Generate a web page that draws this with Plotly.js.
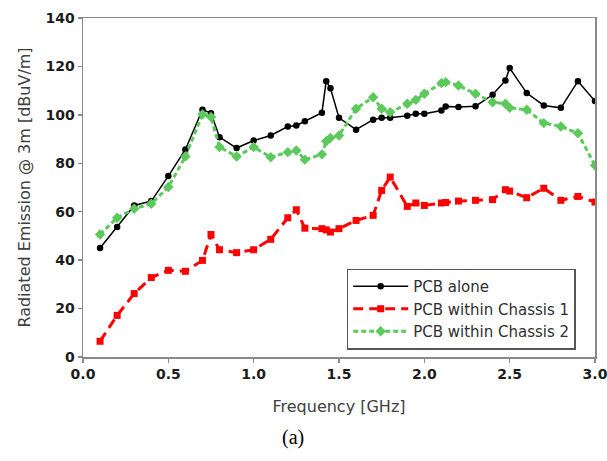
<!DOCTYPE html>
<html>
<head>
<meta charset="utf-8">
<script src="https://cdn.plot.ly/plotly-3.0.1.min.js"></script>
<style>
  html, body { margin: 0; padding: 0; background: #fff; }
  #chart { width: 607px; height: 461px; }
</style>
</head>
<body>
<div id="chart"></div>
<script>
// Frequency sample points [GHz]
const freqGHz = [0.1, 0.2, 0.3, 0.4, 0.5, 0.6, 0.7, 0.75, 0.8, 0.9, 1.0, 1.1, 1.2, 1.25, 1.3,
  1.4, 1.425, 1.45, 1.5, 1.6, 1.7, 1.75, 1.8, 1.9, 1.95, 2.0, 2.1, 2.125, 2.2, 2.3, 2.4,
  2.475, 2.5, 2.6, 2.7, 2.8, 2.9, 3.0];

// Radiated emission @ 3m [dBuV/m]
const pcbAlone = [45.0, 53.7, 62.6, 64.4, 74.7, 85.7, 102.1, 100.7, 90.8, 86.3, 89.4, 91.5, 95.2, 95.6, 97.4,
  100.9, 113.9, 111.0, 98.8, 93.9, 98.0, 98.8, 98.8, 99.6, 100.5, 100.5, 101.8, 103.5, 103.2, 103.6, 108.3,
  114.2, 119.3, 109.0, 103.9, 102.9, 113.9, 105.7];

const pcbChassis1 = [6.5, 17.2, 26.2, 32.8, 35.8, 35.4, 39.9, 50.6, 44.3, 43.1, 44.3, 48.6, 57.5, 60.8, 53.2,
  53.0, 52.5, 51.6, 53.0, 56.4, 58.5, 68.8, 74.3, 62.2, 63.6, 62.6, 63.6, 63.8, 64.4, 64.7, 65.0,
  69.1, 68.5, 65.8, 69.7, 64.7, 66.3, 64.0];

const pcbChassis2 = [50.6, 57.5, 61.2, 63.3, 70.2, 82.8, 100.2, 99.1, 86.7, 82.8, 86.7, 82.5, 84.6, 85.3, 81.5,
  83.7, 89.1, 90.5, 91.5, 102.5, 107.3, 102.5, 101.1, 104.6, 106.2, 108.7, 113.1, 113.5, 112.1, 108.7, 105.2,
  104.6, 102.9, 102.1, 96.6, 95.2, 92.4, 79.1];

const seriesNames = ['PCB alone', 'PCB within Chassis 1', 'PCB within Chassis 2'];
const xTicks = [0, 0.5, 1.0, 1.5, 2.0, 2.5, 3.0];
const yTicks = [0, 20, 40, 60, 80, 100, 120, 140];

const RED = '#ff0000';
const GREEN = '#5cc95c';
const AXIS = '#8a8a8a';

const traces = [
  {
    x: freqGHz, y: pcbAlone, name: seriesNames[0], type: 'scatter', mode: 'lines+markers',
    line: { color: '#000000', width: 1.5 },
    marker: { symbol: 'circle', size: 6.5, color: '#000000' }
  },
  {
    x: freqGHz, y: pcbChassis1, name: seriesNames[1], type: 'scatter', mode: 'lines+markers',
    line: { color: RED, width: 3, dash: '10px,6px' },
    marker: { symbol: 'square', size: 7, color: RED }
  },
  {
    x: freqGHz, y: pcbChassis2, name: seriesNames[2], type: 'scatter', mode: 'lines+markers',
    line: { color: GREEN, width: 3, dash: '5px,3px' },
    marker: { symbol: 'diamond', size: 8, color: GREEN }
  }
];

const tickFont = { family: 'DejaVu Sans', size: 14, color: '#1c1c1c', weight: 'bold' };
const titleFont = { family: 'DejaVu Sans', size: 16, color: '#404040' };

const layout = {
  width: 607, height: 461,
  margin: { l: 83, r: 12, t: 18, b: 104 },
  paper_bgcolor: '#ffffff',
  plot_bgcolor: '#ffffff',
  showlegend: true,
  legend: {
    x: 0.515, y: 0.022, xanchor: 'left', yanchor: 'bottom',
    bgcolor: '#ffffff', bordercolor: '#555555', borderwidth: 1.5,
    font: { family: 'DejaVu Sans', size: 15, color: '#303030' },
    itemwidth: 55, tracegroupgap: 0
  },
  xaxis: {
    range: [0, 3], tickvals: xTicks, ticktext: xTicks.map(v => v.toFixed(1)),
    showgrid: false, zeroline: false,
    showline: true, linecolor: AXIS, linewidth: 1.5, mirror: true,
    ticks: 'outside', ticklen: 4, tickcolor: AXIS, tickwidth: 1.5,
    tickfont: tickFont, ticklabeloverflow: 'allow',
    title: { text: 'Frequency [GHz]', font: titleFont, standoff: 19 }
  },
  yaxis: {
    range: [0, 140], tickvals: yTicks,
    showgrid: false, zeroline: false,
    showline: true, linecolor: AXIS, linewidth: 1.5, mirror: true,
    ticks: 'outside', ticklen: 4, tickcolor: AXIS, tickwidth: 1.5,
    tickfont: tickFont, ticklabeloverflow: 'allow',
    title: { text: 'Radiated Emission @ 3m [dBuV/m]', font: titleFont, standoff: 11 }
  },
  annotations: [
    {
      text: '(a)', xref: 'paper', yref: 'paper', x: 0.41, y: -0.237,
      xanchor: 'center', yanchor: 'middle', showarrow: false,
      font: { family: 'Liberation Serif', size: 20, color: '#000000' }
    }
  ]
};

Plotly.newPlot('chart', traces, layout, { displayModeBar: false, staticPlot: true });
</script>
</body>
</html>
